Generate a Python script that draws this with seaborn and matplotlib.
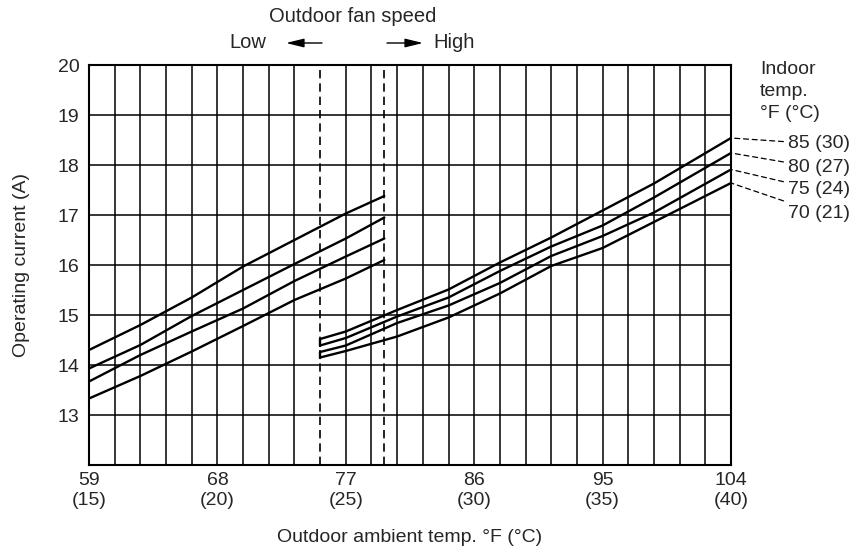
import numpy as np
import pandas as pd
import matplotlib
matplotlib.use("Agg")
import matplotlib.pyplot as plt
import matplotlib.ticker as mticker
import seaborn as sns

# ---- data ----
low_x = [59.0, 62.6, 66.2, 69.8, 73.4, 77.0, 79.7]
low_85 = [14.30, 14.80, 15.35, 15.97, 16.50, 17.03, 17.38]
low_80 = [13.93, 14.40, 14.98, 15.50, 16.02, 16.53, 16.95]
low_75 = [13.67, 14.20, 14.67, 15.13, 15.68, 16.17, 16.53]
low_70 = [13.33, 13.78, 14.27, 14.78, 15.30, 15.73, 16.10]

high_x = [75.2, 77.0, 80.6, 84.2, 87.8, 91.4, 95.0, 98.6, 104.0]
high_85 = [14.52, 14.67, 15.10, 15.51, 16.05, 16.55, 17.09, 17.63, 18.54]
high_80 = [14.39, 14.54, 14.97, 15.35, 15.88, 16.37, 16.79, 17.35, 18.24]
high_75 = [14.26, 14.39, 14.84, 15.19, 15.64, 16.18, 16.58, 17.05, 17.91]
high_70 = [14.15, 14.28, 14.57, 14.95, 15.43, 15.98, 16.34, 16.86, 17.64]

indoor_labels = ["85 (30)", "80 (27)", "75 (24)", "70 (21)"]
label_y = [18.42, 17.94, 17.50, 17.04]

x_ticks = [59, 68, 77, 86, 95, 104]
x_ticklabels = ["59\n(15)", "68\n(20)", "77\n(25)", "86\n(30)", "95\n(35)", "104\n(40)"]
y_ticks = [13, 14, 15, 16, 17, 18, 19, 20]
fan_low_limit = 79.7
fan_high_start = 75.2

# ---- build table ----
rows = []
for name, ys in zip(indoor_labels, [low_85, low_80, low_75, low_70]):
    for x, y in zip(low_x, ys):
        rows.append(dict(F=x, I=y, indoor=name, fan="low"))
for name, ys in zip(indoor_labels, [high_85, high_80, high_75, high_70]):
    for x, y in zip(high_x, ys):
        rows.append(dict(F=x, I=y, indoor=name, fan="high"))
df = pd.DataFrame(rows)

sns.set_theme(style="white")
plt.rcParams['font.family'] = ['Liberation Sans', 'DejaVu Sans']

W, H = 857, 553
fig = plt.figure(figsize=(W / 100, H / 100), dpi=100)
ax = fig.add_axes([89 / W, 1 - 465 / H, (731 - 89) / W, 400 / H])

for (fan, name), sub in df.groupby(["fan", "indoor"]):
    sns.lineplot(data=sub, x="F", y="I", ax=ax, color="black", lw=1.7,
                 estimator=None, sort=True, legend=False)

# vertical joins at start of high-speed curves
ax.plot([high_x[0], high_x[0]], [high_80[0], high_85[0]], color="black", lw=1.7)
ax.plot([high_x[0], high_x[0]], [high_70[0], high_75[0]], color="black", lw=1.7)

ax.set_xlim(59, 104)
ax.set_ylim(12, 20)

# grid
ax.xaxis.remove_overlapping_locs = False
ax.yaxis.remove_overlapping_locs = False
minor = [v for v in np.arange(59, 104.01, 1.8) if abs(v - fan_high_start) > 0.3]
ax.xaxis.set_minor_locator(mticker.FixedLocator(minor))
ax.yaxis.set_minor_locator(mticker.FixedLocator(np.arange(12, 20.01, 1)))
ax.grid(which="minor", axis="both", color="black", lw=1.1)
ax.grid(which="major", visible=False)
ax.set_axisbelow(True)

for xv in [fan_high_start, fan_low_limit]:
    ax.axvline(xv, color="black", lw=1.2, ls=(0, (5, 3)))

ax.set_xticks(x_ticks)
ax.set_xticklabels(x_ticklabels, fontsize=14, linespacing=1.2)
ax.set_yticks(y_ticks)
ax.set_yticklabels([str(v) for v in y_ticks], fontsize=14)
ax.tick_params(axis="both", which="both", length=0)
ax.tick_params(axis="x", pad=5)
ax.tick_params(axis="y", pad=7)
for s in ax.spines.values():
    s.set_color("black")
    s.set_linewidth(1.5)
ax.set_xlabel("")
ax.set_ylabel("")

fig.text(22 / W, 1 - 265 / H, "Operating current (A)", rotation=90,
         ha="center", va="center", fontsize=14)
fig.text(410 / W, 1 - 537 / H, "Outdoor ambient temp. °F (°C)",
         ha="center", va="center", fontsize=14)

# fan speed header
fig.text(353 / W, 1 - 17 / H, "Outdoor fan speed", ha="center", va="center", fontsize=14.5)
fig.text(248 / W, 1 - 43 / H, "Low", ha="center", va="center", fontsize=14.5)
fig.text(454 / W, 1 - 43 / H, "High", ha="center", va="center", fontsize=14.5)
ap = dict(arrowstyle="-|>,head_length=0.9,head_width=0.22", color="black", lw=1.0,
          shrinkA=0, shrinkB=0)
ax.annotate("", xy=(286 / W, 1 - 43 / H), xytext=(322 / W, 1 - 43 / H),
            xycoords="figure fraction", textcoords="figure fraction", arrowprops=ap)
ax.annotate("", xy=(423 / W, 1 - 43 / H), xytext=(387 / W, 1 - 43 / H),
            xycoords="figure fraction", textcoords="figure fraction", arrowprops=ap)

# right side legend text
fig.text(760 / W, 1 - 61 / H, "Indoor\ntemp.\n°F (°C)", ha="left", va="top",
         fontsize=14, linespacing=1.4)
ends = [high_85[-1], high_80[-1], high_75[-1], high_70[-1]]
for lab, ly, ey in zip(indoor_labels, label_y, ends):
    ax.annotate(lab, xy=(high_x[-1], ey), xytext=(108.0, ly),
                xycoords="data", textcoords="data", ha="left", va="center",
                fontsize=14, annotation_clip=False,
                arrowprops=dict(arrowstyle="-", color="black", lw=0.9,
                                ls=(0, (4, 3)), shrinkA=1, shrinkB=0))

fig.savefig("out.png", dpi=100)
